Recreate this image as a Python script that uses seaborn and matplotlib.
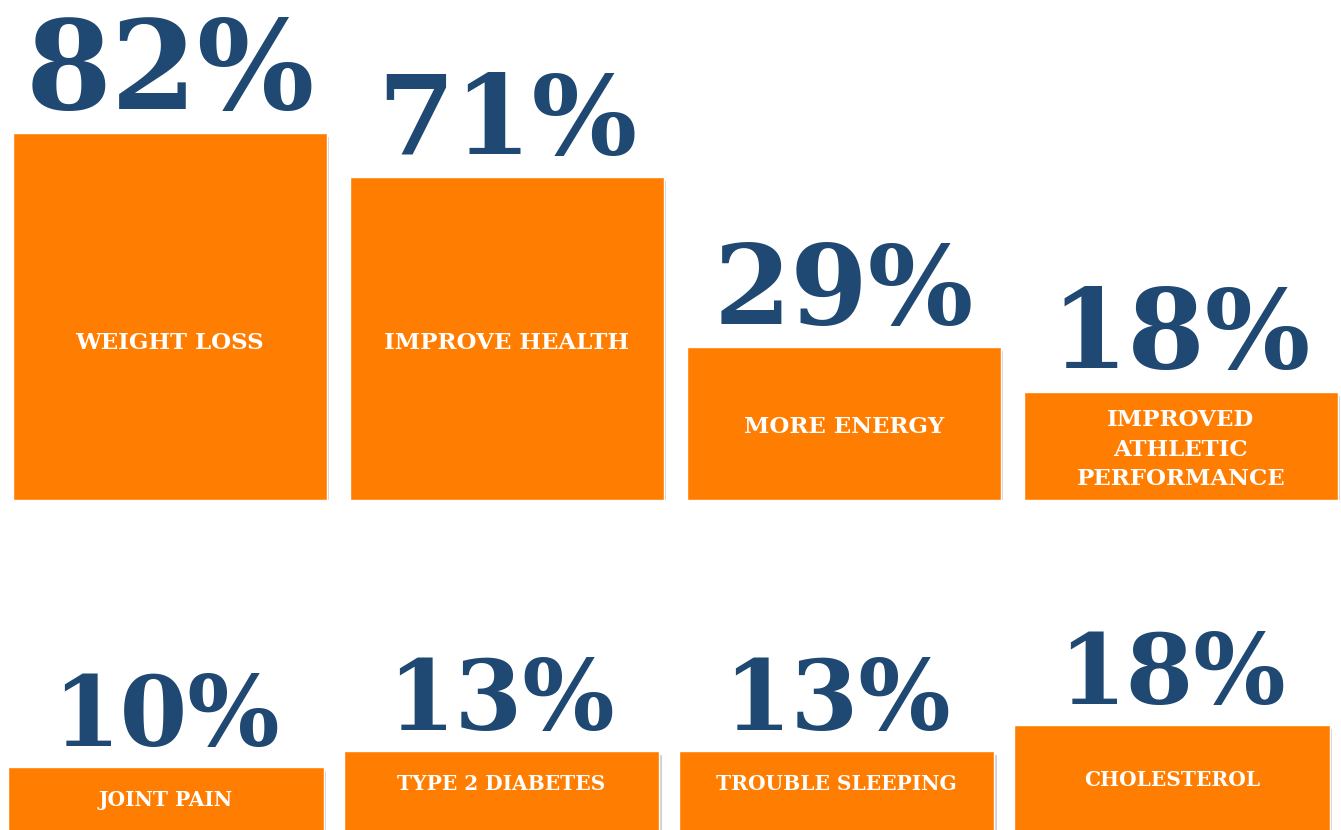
import matplotlib
matplotlib.use("Agg")
import matplotlib.pyplot as plt
import matplotlib.patheffects as pe
import seaborn as sns

# survey answers, top row and bottom row
top_labels = ["WEIGHT LOSS", "IMPROVE HEALTH", "MORE ENERGY",
              "IMPROVED\nATHLETIC\nPERFORMANCE"]
top_values = [82, 71, 29, 18]
bottom_labels = ["JOINT PAIN", "TYPE 2 DIABETES", "TROUBLE SLEEPING", "CHOLESTEROL"]
bottom_values = [10, 13, 13, 18]

orange = "#FF7D00"
navy = "#1F4872"

sns.set_theme(style="white")
plt.rcParams["font.family"] = ["DejaVu Serif"]

fig = plt.figure(figsize=(13.41, 8.30), dpi=100)
fig.patch.set_facecolor("white")

shadow = [pe.SimplePatchShadow(offset=(2, -3), shadow_rgbFace="#888888", alpha=0.4),
          pe.Normal()]


def extend_bars(ax, base):
    # bars start a little below zero so the short ones still hold their label
    for b in ax.patches:
        top = b.get_y() + b.get_height()
        b.set_y(base)
        b.set_height(top - base)
        b.set_path_effects(shadow)


# ---- top row
ax1 = fig.add_axes([0, 0.398, 1, 0.602])
base1 = -8.7
sns.barplot(x=top_labels, y=top_values, color=orange, width=0.93, saturation=1, ax=ax1)
extend_bars(ax1, base1)
ax1.set_xlim(-0.504, 3.475)
ax1.set_ylim(base1, 114.8)
for i, (lab, v) in enumerate(zip(top_labels, top_values)):
    size = 89 if i == 0 else 80
    ax1.annotate(f"{v}%", (i, v), xytext=(0, 17), textcoords="offset points",
                 ha="center", va="baseline", fontsize=size, fontweight="bold",
                 color=navy)
    ymid = min((v + base1) / 2, 30.9)
    ax1.text(i, ymid - 1, lab, ha="center", va="center", fontsize=16.5,
             fontweight="bold", color="white", linespacing=1.45)
ax1.axis("off")

# ---- bottom row
ax2 = fig.add_axes([0, 0, 1, 0.325])
base2 = -5
sns.barplot(x=bottom_labels, y=bottom_values, color=orange, width=0.94, saturation=1,
            ax=ax2)
extend_bars(ax2, base2)
ax2.set_xlim(-0.495, 3.504)
ax2.set_ylim(-2, 49.4)
for i, (lab, v) in enumerate(zip(bottom_labels, bottom_values)):
    ax2.annotate(f"{v}%", (i, v), xytext=(0, 15), textcoords="offset points",
                 ha="center", va="baseline", fontsize=70, fontweight="bold",
                 color=navy)
    ax2.text(i, min(v - 6.3, 7.5), lab, ha="center", va="center", fontsize=14.5,
             fontweight="bold", color="white")
ax2.axis("off")

fig.savefig("out.png", dpi=100, facecolor="white")
